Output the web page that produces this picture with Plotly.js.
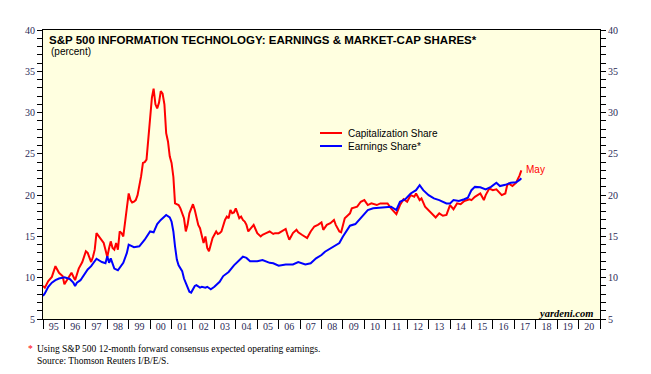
<!DOCTYPE html>
<html>
<head>
<meta charset="utf-8">
<script src="https://cdn.plot.ly/plotly-3.0.1.min.js"></script>
<style>
  html, body { margin: 0; padding: 0; background: #ffffff; }
  #chart { width: 651px; height: 374px; }
</style>
</head>
<body>
<div id="chart"></div>
<script>
// ---- Data (percent) ----
const capDates = [
  '1995-01','1995-02','1995-04','1995-06','1995-08','1995-09','1995-10','1995-11','1995-12',
  '1996-01','1996-03','1996-05','1996-07','1996-09','1996-11',
  '1997-01','1997-02','1997-04','1997-05','1997-06','1997-07','1997-09','1997-11','1997-12',
  '1998-01','1998-02','1998-03','1998-04','1998-05','1998-06','1998-07','1998-08','1998-09','1998-10','1998-11','1998-12',
  '1999-01','1999-02','1999-03','1999-04','1999-05','1999-06','1999-07','1999-08','1999-09','1999-10','1999-11','1999-12',
  '2000-01','2000-02','2000-03','2000-04','2000-05','2000-06','2000-07','2000-08','2000-09','2000-10','2000-11','2000-12',
  '2001-01','2001-02','2001-03','2001-04','2001-05','2001-06','2001-07','2001-08','2001-09','2001-10','2001-11','2001-12',
  '2002-01','2002-02','2002-03','2002-04','2002-05','2002-06','2002-07','2002-08','2002-09','2002-10','2002-11','2002-12',
  '2003-01','2003-02','2003-03','2003-04','2003-05','2003-06','2003-07','2003-08','2003-09','2003-10','2003-11','2003-12',
  '2004-01','2004-02','2004-03','2004-04','2004-05','2004-06','2004-07','2004-08','2004-09','2004-10','2004-11','2004-12',
  '2005-01','2005-03','2005-04','2005-06','2005-08','2005-10','2005-11',
  '2006-01','2006-03','2006-05','2006-06','2006-07','2006-08','2006-09','2006-11','2006-12',
  '2007-02','2007-04','2007-05','2007-07','2007-09','2007-11',
  '2008-01','2008-02','2008-04','2008-06','2008-08','2008-09','2008-11','2008-12',
  '2009-02','2009-04','2009-05','2009-06','2009-09','2009-11',
  '2010-01','2010-03','2010-05','2010-08','2010-10','2010-12',
  '2011-02','2011-04','2011-06','2011-07','2011-09','2011-11',
  '2012-01','2012-03','2012-05','2012-06','2012-08','2012-09','2012-11',
  '2013-02','2013-05','2013-07','2013-09','2013-11',
  '2014-01','2014-03','2014-05','2014-07','2014-09','2014-12',
  '2015-01','2015-03','2015-06','2015-08','2015-09','2015-11',
  '2016-01','2016-03','2016-05','2016-06','2016-08','2016-09','2016-10','2016-12',
  '2017-02','2017-03','2017-04','2017-05'
];
const capShare = [
  9.0,8.8,9.6,10.1,11.4,10.9,10.6,10.4,10.2,
  9.2,9.9,10.6,9.7,11.1,11.9,
  13.2,13.0,11.9,12.5,13.4,15.4,14.8,14.2,13.4,
  12.5,13.6,14.4,13.6,13.4,14.2,13.4,15.6,15.4,15.0,17.0,18.2,
  20.2,19.4,19.1,19.2,19.4,20.0,21.0,22.3,23.9,24.0,24.3,27.1,
  29.5,31.8,32.9,31.0,30.5,31.2,32.6,32.3,31.0,27.5,26.5,24.7,
  23.9,22.2,19.0,18.9,18.8,18.4,17.8,17.2,15.6,16.4,17.8,18.4,
  18.9,18.2,17.2,16.4,16.0,15.2,14.2,15.0,13.6,13.2,14.0,14.8,
  15.2,15.6,15.3,15.4,15.6,16.4,17.0,17.4,17.2,18.2,17.8,17.9,
  18.4,17.8,17.2,17.4,17.0,16.8,16.4,15.6,15.9,16.2,16.4,15.9,
  15.4,15.0,15.2,15.4,15.6,15.3,15.4,
  15.4,15.6,15.9,15.2,14.6,15.0,15.4,15.8,15.5,
  15.2,15.0,14.8,15.6,16.2,16.4,
  16.7,15.8,16.4,16.6,17.0,16.4,15.6,15.5,
  17.2,17.6,17.8,18.4,18.6,19.2,
  19.4,18.8,19.0,18.8,19.0,19.0,
  19.0,18.4,18.0,17.7,18.8,19.5,
  19.2,20.0,19.8,20.2,19.4,19.6,18.6,
  18.0,17.3,17.8,17.5,17.6,
  18.8,18.3,19.0,18.9,19.3,19.5,
  19.4,19.8,20.2,19.4,20.0,20.8,
  20.6,20.7,20.2,20.0,20.2,21.2,21.4,21.1,
  21.5,21.9,22.4,23.0
];

const earnDates = [
  '1995-01','1995-02','1995-04','1995-06','1995-08','1995-10',
  '1996-01','1996-04','1996-06','1996-07','1996-08','1996-10',
  '1997-02','1997-04','1997-07','1997-10','1997-12',
  '1998-01','1998-02','1998-03','1998-05','1998-07','1998-10','1998-12',
  '1999-01','1999-04','1999-07','1999-10',
  '2000-01','2000-03','2000-05','2000-07','2000-10','2000-12',
  '2001-01','2001-02','2001-03','2001-04','2001-05','2001-06','2001-07','2001-08','2001-09','2001-10','2001-11','2001-12',
  '2002-01','2002-02','2002-03','2002-05','2002-06','2002-08','2002-09','2002-11',
  '2003-01','2003-02','2003-04','2003-06','2003-09','2003-12',
  '2004-03','2004-05','2004-07','2004-09',
  '2005-01','2005-04','2005-08','2005-10',
  '2006-01','2006-05','2006-09','2006-12',
  '2007-04','2007-07','2007-10',
  '2008-01','2008-03','2008-07','2008-11',
  '2009-01','2009-05','2009-08','2009-11',
  '2010-03','2010-06','2010-10',
  '2011-01','2011-04','2011-07','2011-09','2011-12',
  '2012-03','2012-06','2012-08','2012-10',
  '2013-01','2013-04','2013-07','2013-11',
  '2014-01','2014-03','2014-06','2014-09','2014-11',
  '2015-01','2015-03','2015-06','2015-09','2015-12',
  '2016-03','2016-05','2016-08','2016-11',
  '2017-02','2017-04','2017-05'
];
const earnShare = [
  7.8,8.1,8.9,9.4,9.7,9.9,
  10.05,9.85,9.4,9.0,9.4,9.7,
  11.0,11.4,12.3,11.9,11.75,
  12.6,11.8,12.35,11.1,10.9,11.8,13.0,
  14.0,13.7,13.8,14.6,
  15.6,15.5,16.5,17.0,17.6,17.3,
  16.8,15.6,13.8,12.2,11.5,11.2,10.8,9.9,9.4,8.8,8.3,8.2,
  8.6,9.0,9.1,8.8,8.9,8.8,8.9,8.6,
  8.9,9.1,9.5,10.2,10.7,11.5,
  12.2,12.55,12.4,12.0,
  12.0,12.15,11.8,11.75,
  11.45,11.6,11.6,11.9,
  11.6,11.75,12.35,
  12.75,13.15,13.7,14.2,
  15.0,16.3,16.5,17.2,
  18.2,18.4,18.5,
  18.6,18.6,18.2,19.2,19.5,
  20.2,20.6,21.2,20.6,
  20.0,19.6,19.4,19.0,
  19.0,19.4,19.3,19.5,19.7,
  20.6,21.0,20.95,20.7,21.0,
  21.5,21.1,21.25,21.5,
  21.55,21.85,22.05
];

const seriesNames = ['Capitalization Share', 'Earnings Share*'];
const xRange = ['1995-01-01', '2021-01-01'];
const yRange = [5, 40];

// ---- Layout helpers (plot area: x 43..600, y 30..319) ----
const PL = 43, PR = 600, PT = 30, PB = 319;
const px = v => (v - PL) / (PR - PL);
const py = v => (PB - v) / (PB - PT);

const tickFont = { family: 'Liberation Serif, Times New Roman, serif', size: 10, color: '#2a2a55' };

const traces = [
  { x: capDates, y: capShare, name: seriesNames[0], type: 'scatter', mode: 'lines',
    line: { color: '#ff0000', width: 2 }, xaxis: 'x', yaxis: 'y', hoverinfo: 'skip' },
  { x: earnDates, y: earnShare, name: seriesNames[1], type: 'scatter', mode: 'lines',
    line: { color: '#0000ff', width: 2 }, xaxis: 'x2', yaxis: 'y2', hoverinfo: 'skip' }
];

const sans = 'Liberation Sans, Arial, sans-serif';
const serif = 'Liberation Serif, Times New Roman, serif';

const layout = {
  width: 651, height: 374,
  margin: { l: PL, r: 651 - PR, t: PT, b: 374 - PB, pad: 0 },
  paper_bgcolor: '#ffffff',
  plot_bgcolor: '#ffffe0',
  showlegend: false,
  title: {
    text: 'S&P 500 INFORMATION TECHNOLOGY: EARNINGS & MARKET-CAP SHARES*',
    font: { family: sans, size: 11.5, color: '#000000', weight: 'bold' },
    xref: 'container', yref: 'container',
    x: 49 / 651, xanchor: 'left',
    y: 1 - 40 / 374, yanchor: 'middle'
  },
  xaxis: {
    type: 'date', range: xRange, dtick: 'M12', tick0: '1995-01-01',
    showticklabels: false, ticks: 'outside', ticklen: 9, tickcolor: '#000000', tickwidth: 1,
    showline: true, linecolor: '#000000', linewidth: 1, mirror: true,
    showgrid: false, zeroline: false, fixedrange: true
  },
  xaxis2: {
    type: 'date', range: xRange, dtick: 'M12', tick0: '1995-01-01',
    overlaying: 'x', anchor: 'y', side: 'bottom',
    ticklabelmode: 'period', tickformat: '%y', ticks: '',
    tickfont: tickFont, showline: false, showgrid: false, zeroline: false, fixedrange: true
  },
  yaxis: {
    range: yRange, dtick: 5, tick0: 0,
    ticks: 'outside', ticklen: 5, tickcolor: '#000000',
    minor: { dtick: 1, ticks: 'outside', ticklen: 5, tickcolor: '#000000', showgrid: false },
    showline: true, linecolor: '#000000', linewidth: 1, mirror: true,
    tickfont: tickFont, showgrid: false, zeroline: false, fixedrange: true
  },
  yaxis2: {
    range: yRange, dtick: 5, tick0: 0, overlaying: 'y', anchor: 'x2', side: 'right',
    ticks: 'outside', ticklen: 5, tickcolor: '#000000',
    minor: { dtick: 1, ticks: 'outside', ticklen: 5, tickcolor: '#000000', showgrid: false },
    showline: true, linecolor: '#000000', linewidth: 1,
    tickfont: tickFont, showgrid: false, zeroline: false, fixedrange: true
  },
  shapes: [
    { type: 'line', xref: 'paper', yref: 'paper', x0: px(320), x1: px(342), y0: py(133), y1: py(133),
      line: { color: '#ff0000', width: 2 } },
    { type: 'line', xref: 'paper', yref: 'paper', x0: px(320), x1: px(342), y0: py(146), y1: py(146),
      line: { color: '#0000ff', width: 2 } }
  ],
  annotations: [
    { text: '(percent)', xref: 'paper', yref: 'paper', x: px(49), y: py(52), xanchor: 'left', yanchor: 'middle',
      showarrow: false, font: { family: sans, size: 10, color: '#000000' } },
    { text: seriesNames[0], xref: 'paper', yref: 'paper', x: px(346), y: py(133), xanchor: 'left', yanchor: 'middle',
      showarrow: false, font: { family: sans, size: 10, color: '#000000' } },
    { text: seriesNames[1], xref: 'paper', yref: 'paper', x: px(346), y: py(146), xanchor: 'left', yanchor: 'middle',
      showarrow: false, font: { family: sans, size: 10, color: '#000000' } },
    { text: 'May', xref: 'x', yref: 'y', x: capDates[capDates.length - 1], y: capShare[capShare.length - 1],
      xanchor: 'left', yanchor: 'middle', xshift: 3, yshift: 1, showarrow: false,
      font: { family: sans, size: 10, color: '#ff0000' } },
    { text: '<b><i>yardeni.com</i></b>', xref: 'paper', yref: 'paper', x: px(595), y: py(313), xanchor: 'right', yanchor: 'middle',
      showarrow: false, font: { family: serif, size: 10.5, color: '#000000' } },
    { text: '*', xref: 'paper', yref: 'paper', x: px(26), y: py(349), xanchor: 'left', yanchor: 'middle',
      showarrow: false, font: { family: serif, size: 9.5, color: '#ff0000' } },
    { text: 'Using S&P 500 12-month forward consensus expected operating earnings.', xref: 'paper', yref: 'paper',
      x: px(35), y: py(349), xanchor: 'left', yanchor: 'middle',
      showarrow: false, font: { family: serif, size: 9.5, color: '#000000' } },
    { text: 'Source: Thomson Reuters I/B/E/S.', xref: 'paper', yref: 'paper',
      x: px(35), y: py(360.5), xanchor: 'left', yanchor: 'middle',
      showarrow: false, font: { family: serif, size: 9.5, color: '#000000' } }
  ]
};

Plotly.newPlot('chart', traces, layout, { displayModeBar: false, staticPlot: true });
</script>
</body>
</html>
